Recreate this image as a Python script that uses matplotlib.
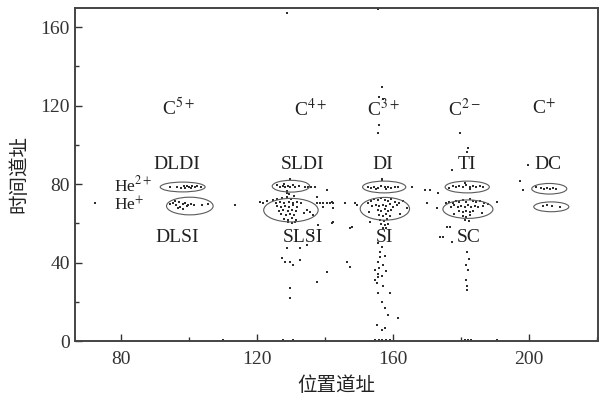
import matplotlib
matplotlib.use("Agg")
import matplotlib.pyplot as plt
from matplotlib.patches import Ellipse
from matplotlib.ticker import MultipleLocator

plt.rcParams["font.family"] = ["Liberation Serif", "DejaVu Serif"]
plt.rcParams["mathtext.fontset"] = "stix"

# Coincidence events: (position channel, time channel)
pts_dldi = [(94.5, 78.6), (96.5, 78.4), (98.5, 78.9), (99.5, 79.2), (100.2, 78.8), (101, 79),
            (101.8, 78.6), (102.5, 78.9), (100.6, 78.2), (99, 78.0), (97.8, 77.9), (103.5, 78.5)]
pts_dlsi = [(94.5, 69.8), (95.5, 70.5), (96.3, 69.2), (97, 70.8), (97.5, 68.6), (98.2, 69.8),
            (98.8, 70.4), (99.4, 68.8), (99.9, 69.6), (100.6, 70.0), (96.8, 67.8), (98.4, 67.5),
            (101.5, 69.3), (103.8, 69.4), (105.5, 69.7), (95.8, 71.3)]
pts_sldi = [(126, 79.5), (126.8, 78.5), (127.6, 79.2), (128.3, 78.4), (129.1, 79.1), (129.8, 78.6),
            (130.5, 79.4), (131.2, 78.7), (128, 80.2), (132.5, 79), (134, 78.6), (129.7, 82.6),
            (135, 78.7), (136, 78.7), (137.2, 78.6), (140.6, 77), (128.8, 75.5), (128.8, 76.5)]
pts_slsi = [(124.7, 71.9), (126, 72.5), (127.5, 72.8), (128.8, 73.3), (130, 72.5), (131, 73.8),
            (129.5, 74.8), (125.5, 70.5), (126.8, 70.9), (128, 70.2), (129.3, 71), (130.5, 70.5),
            (131.8, 71.2), (133, 70.6), (125.8, 68.8), (127, 68.2), (128.2, 69), (129.5, 68.4),
            (130.6, 69.2), (131.9, 68.6), (126.5, 66.5), (127.8, 67), (129, 66.4), (130.2, 66.9),
            (131.4, 66.2), (127.2, 64.8), (128.5, 64.2), (129.7, 64.9), (130.9, 64.3), (128, 62.5),
            (129.2, 62), (130.4, 62.6), (131.5, 61.8), (129, 60.6), (130.2, 60.2), (131.3, 60.8),
            (133.8, 65.5), (135.5, 66), (136.5, 64.3), (134.6, 66.8), (137.6, 73.5), (139.4, 68.4),
            (142, 71), (142.4, 67.9)]
pts_di = [(152.5, 78.6), (153.5, 78.2), (154.5, 78.8), (155.5, 78.3), (156.5, 78.9), (157.5, 78.4),
          (158.5, 78.8), (159.5, 78.3), (160.5, 78.7), (161.5, 78.4), (155, 77.6), (158, 77.5),
          (156.8, 82.6), (165.6, 78.6)]
pts_si = [(152.5, 70.5), (153.5, 71.5), (154.5, 72.3), (155.5, 71.8), (156.5, 72.8), (157.5, 72),
          (158.5, 71.5), (159.5, 72.3), (160.5, 71), (161.8, 70.6), (163, 71.5), (153.8, 69),
          (155, 69.5), (156, 68.8), (157, 69.6), (158, 68.9), (159, 69.7), (160, 68.6),
          (161.2, 69.2), (155.5, 67), (156.5, 66.3), (157.5, 67.2), (158.5, 66.5), (159.5, 67),
          (156, 64.5), (157, 63.8), (158, 64.6), (159, 63.9), (156.3, 62), (157.3, 61.5),
          (158.3, 62.2), (156.6, 59.8), (157.6, 59.2), (158.6, 59.9), (157, 57.8), (158, 57.5),
          (162, 65), (164, 68), (153, 66)]
pts_si_tail = [(155.6, 50), (156.8, 48), (156.2, 45.5), (157.5, 43.5), (156.2, 42.9), (155.5, 40.5),
               (157, 39), (156, 37.5), (157.8, 36), (155.6, 34.5), (156.8, 33), (155.6, 32.7),
               (155.3, 29.6), (157.2, 28), (155.6, 24.5), (159.1, 24.5), (156.8, 19.9), (157.5, 17),
               (158.5, 13.3), (161.5, 11.7), (155.3, 8.2), (156.8, 5.6), (157.5, 7), (154.7, 0.5),
               (155.8, 0.5), (156.9, 0.5), (158, 0.5), (159, 0.5), (154.7, 36.2), (154.7, 31),
               (147.4, 37.8), (148, 58.2)]
pts_ti = [(176.5, 78.2), (177.5, 78.9), (178.5, 78.4), (179.5, 79.2), (180.5, 78.5), (181.5, 79.4),
          (182.5, 78.7), (183.5, 79.3), (184.5, 78.5), (185.5, 78.9), (186.5, 78.4), (181, 80.5),
          (182.5, 77.5), (177.4, 87.2), (181.8, 96.4), (182, 98.5), (179.7, 106)]
pts_sc = [(175.5, 70.3), (176.5, 71.2), (177.5, 70.5), (178.5, 71.5), (179.5, 70.8), (180.5, 72),
          (181.5, 71.2), (182.5, 72.3), (183.5, 71.5), (184.5, 70.8), (185.5, 71.5), (186.8, 70.6),
          (188, 70), (177, 68.5), (178, 69.3), (179, 68.2), (180, 69), (181, 68.3), (182, 69.2),
          (183, 68.4), (184, 69), (185, 68.2), (186.3, 68.8), (179.5, 66.5), (180.5, 65.8),
          (181.5, 66.6), (182.5, 65.9), (183.5, 66.5), (180.5, 64), (181.5, 63.5), (182.5, 64.2),
          (181.2, 61.8), (182.2, 61.5), (178, 65), (186, 65.5), (190.6, 71), (170, 70.4),
          (172.9, 67.9)]
pts_sc_tail = [(175.9, 58), (176.8, 58), (173.8, 53), (174.7, 53), (177.4, 50.5), (181.8, 45.4),
               (182.3, 42), (181.5, 39), (182, 36.2), (181.5, 31), (181.8, 28), (181.8, 26),
               (181, 0.5), (182, 0.5), (183, 0.5)]
pts_dc = [(202, 78.6), (203.5, 78.3), (204.5, 77.8), (205.3, 78.2), (206, 77.6), (207, 78),
          (208, 77.5), (197.4, 81.6), (198.2, 77), (199.7, 89.8),
          (205.3, 69.4), (206.8, 68.9), (209, 68.4), (204.2, 69)]
pts_misc = [(113.5, 69.4), (121.8, 70.4), (120.9, 71), (123, 71.4), (145.9, 70.4), (149.4, 69.4),
            (142.4, 70.4), (148.8, 70.4), (137.6, 70.4), (138.5, 70.4), (139.5, 70.4),
            (140.5, 70.4), (141.5, 70.4), (72.4, 70.4), (128.8, 167.4), (155.6, 169.5),
            (156.8, 129.6), (155.9, 124.5), (157, 123.5), (155.9, 110.2), (155.6, 106), (156.8, 82),
            (169.4, 77), (170.9, 77), (173.2, 75.5), (142.4, 60.7), (153.2, 60.7), (138, 59.2),
            (142, 60.2), (147.4, 57.7), (136.5, 55.1), (128.8, 47.4), (132.6, 47.4), (134.7, 49),
            (127.4, 42.3), (128.2, 40.3), (129.7, 40.3), (130.6, 38.8), (132.6, 41.3),
            (146.5, 40.3), (140.6, 35.2), (137.6, 30.1), (129.7, 27), (129.7, 21.9),
            (127.6, 0.5), (130.6, 0.5), (110, 0.5), (190.6, 0.5)]

# Gates drawn around each channel: (centre x, centre y, width, height)
gates = [(98.2, 78.6, 13.2, 5.0), (100.3, 68.9, 13.7, 9.0),
         (130.0, 79.0, 11.0, 6.0), (130.0, 66.8, 16.0, 12.0),
         (157.4, 78.6, 12.7, 6.0), (157.6, 67.5, 14.5, 11.6),
         (181.8, 78.6, 13.0, 6.0), (182.0, 67.3, 14.7, 9.4),
         (205.9, 77.7, 10.3, 5.4), (206.5, 68.5, 10.3, 5.0)]

# Charge-state labels and channel labels
charge_labels = ["C$^{5+}$", "C$^{4+}$", "C$^{3+}$", "C$^{2-}$", "C$^{+}$"]
charge_x = [96.8, 135.6, 157.2, 181.0, 204.3]
upper_labels = ["DLDI", "SLDI", "DI", "TI", "DC"]
upper_x = [96.5, 133.5, 157.0, 181.8, 205.6]
lower_labels = ["DLSI", "SLSI", "SI", "SC"]
lower_x = [96.5, 133.5, 157.6, 182.3]
he_labels = ["He$^{2+}$", "He$^{+}$"]
he_y = [79.6, 69.4]

fig = plt.figure(figsize=(6.08, 4.01), dpi=100)
ax = fig.add_axes([0.123, 0.149, 0.861, 0.832])

groups = [pts_dldi, pts_dlsi, pts_sldi, pts_slsi, pts_di, pts_si, pts_si_tail,
          pts_ti, pts_sc, pts_sc_tail, pts_dc, pts_misc]
xs = [p[0] for g in groups for p in g]
ys = [p[1] for g in groups for p in g]
ax.scatter(xs, ys, s=4.5, marker="s", color="#2e2e2e", linewidths=0, zorder=2)

for cx, cy, w, h in gates:
    ax.add_patch(Ellipse((cx, cy), w, h, fill=False, edgecolor="#5a5a5a", linewidth=0.8, zorder=3))

txt = dict(fontsize=14, color="#222222")
for lab, x in zip(charge_labels, charge_x):
    ax.text(x, 118.5, lab, ha="center", va="center", **txt)
for lab, x in zip(upper_labels, upper_x):
    ax.text(x, 90, lab, ha="center", va="center", **txt)
for lab, x in zip(lower_labels, lower_x):
    ax.text(x, 53, lab, ha="center", va="center", **txt)
for lab, y in zip(he_labels, he_y):
    ax.text(78.0, y, lab, ha="left", va="center", fontsize=12.5, color="#222222")

ax.set_xlim(66.5, 220.3)
ax.set_ylim(0, 170)
ax.xaxis.set_major_locator(MultipleLocator(40))
ax.xaxis.set_minor_locator(MultipleLocator(20))
ax.yaxis.set_major_locator(MultipleLocator(40))
ax.yaxis.set_minor_locator(MultipleLocator(20))
ax.tick_params(which="both", direction="in", colors="#333333", labelsize=14, width=1.0)
ax.tick_params(which="major", length=5)
ax.tick_params(which="minor", length=3)
ax.tick_params(axis="x", pad=7)
for s in ax.spines.values():
    s.set_color("#444444")
    s.set_linewidth(1.4)

ax.set_xlabel("位置道址", family=["Noto Sans CJK SC", "DejaVu Sans"], fontsize=14, color="#222222", labelpad=5)
ax.set_ylabel("时间道址", family=["Noto Sans CJK SC", "DejaVu Sans"], fontsize=14, color="#222222", labelpad=8)

fig.savefig("out.png", dpi=100, facecolor="white")
